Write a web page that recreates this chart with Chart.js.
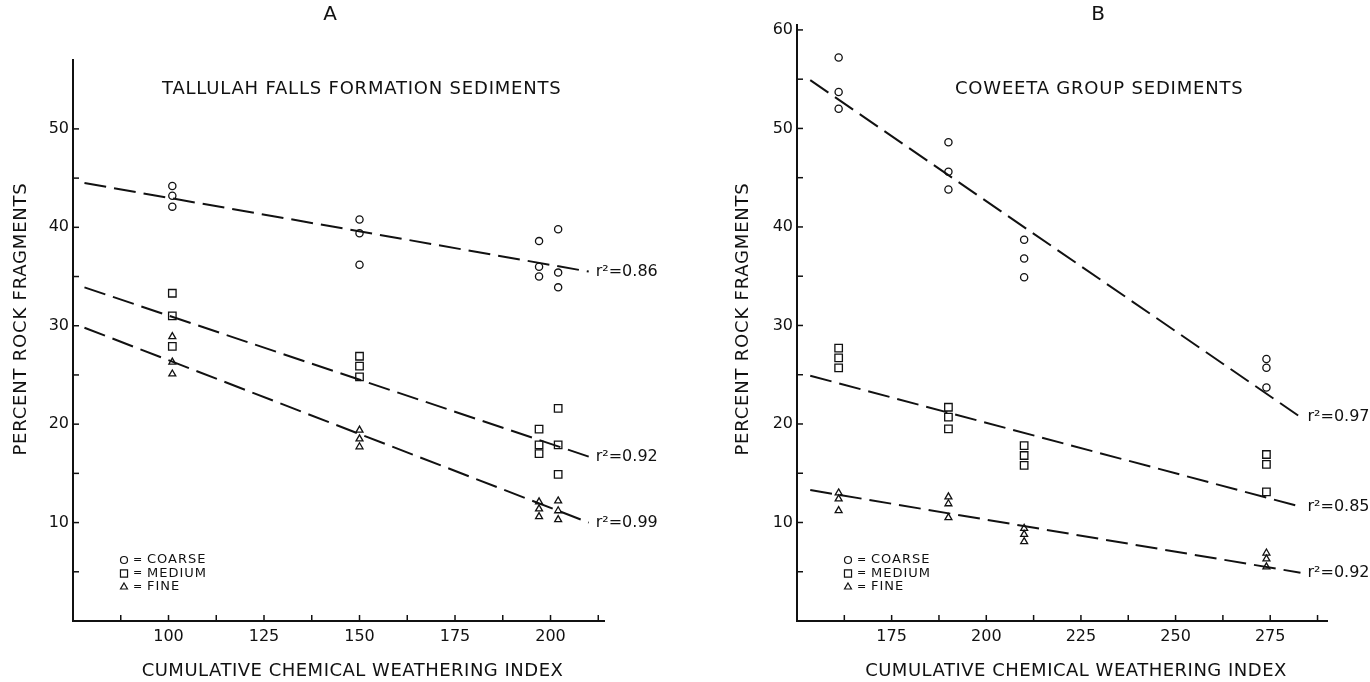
<!DOCTYPE html>
<html>
<head>
<meta charset="utf-8">
<script src="https://cdn.jsdelivr.net/npm/chart.js@4.4.1/dist/chart.umd.min.js"></script>
<style>
    html, body { margin: 0; padding: 0; background: #fff; }
    #wrap { position: relative; width: 1370px; height: 682px; }
    #wrap canvas { position: absolute; top: 0; }
    #grafikA { left: 0; }
    #grafikB { left: 685px; }
</style>
</head>
<body>
<div id="wrap">
    <canvas id="grafikA" width="685" height="682"></canvas>
    <canvas id="grafikB" width="685" height="682"></canvas>
</div>
<script>
// Panel A - Tallulah Falls (x = weathering index, y = percent rock fragments)
const xA = [101, 101, 101, 150, 150, 150, 197, 197, 197, 202, 202, 202];
const coarseA = [44.2, 43.2, 42.1, 40.8, 39.4, 36.2, 38.6, 36.0, 35.0, 39.8, 35.4, 33.9];
const mediumA = [33.3, 31.0, 27.9, 26.9, 25.9, 24.8, 19.5, 17.9, 17.0, 21.6, 17.9, 14.9];
const fineA = [28.9, 26.3, 25.1, 19.4, 18.5, 17.7, 12.1, 11.4, 10.6, 12.2, 11.2, 10.3];

// regression line end points, panel A
const fitXA = [78, 210];
const fitCoarseA = [44.5, 35.5];
const fitMediumA = [33.9, 16.7];
const fitFineA = [29.8, 10.0];
const r2A = ['r\u00B2=0.86', 'r\u00B2=0.92', 'r\u00B2=0.99'];

// Panel B - Coweeta group
const xB = [161, 161, 161, 190, 190, 190, 210, 210, 210, 274, 274, 274];
const coarseB = [57.2, 53.7, 52.0, 48.6, 45.6, 43.8, 38.7, 36.8, 34.9, 26.6, 25.7, 23.7];
const mediumB = [27.7, 26.7, 25.7, 21.7, 20.7, 19.5, 17.8, 16.8, 15.8, 16.9, 15.9, 13.1];
const fineB = [13.0, 12.4, 11.2, 12.6, 11.9, 10.5, 9.4, 8.8, 8.05, 6.9, 6.3, 5.5];

const fitXB = [153.5, 283];
const fitCoarseB = [54.9, 20.7];
const fitMediumB = [24.9, 11.6];
const fitFineB = [13.3, 4.9];
const r2B = ['r\u00B2=0.97', 'r\u00B2=0.85', 'r\u00B2=0.92'];

// tick values
const xTicksA = [87.5, 100, 112.5, 125, 137.5, 150, 162.5, 175, 187.5, 200, 212.5];
const xTicksB = [162.5, 175, 187.5, 200, 212.5, 225, 237.5, 250, 262.5, 275, 287.5];
const yTicksA = [5, 10, 15, 20, 25, 30, 35, 40, 45, 50];
const yTicksB = [5, 10, 15, 20, 25, 30, 35, 40, 45, 50, 55, 60];

const huruf = '"DejaVu Sans", sans-serif';
const hitam = '#111';

function titik(xs, ys) {
    return xs.map((x, i) => ({ x: x, y: ys[i] }));
}

function seriTitik(label, xs, ys, gaya, r) {
    return {
        label: label,
        data: titik(xs, ys),
        pointStyle: gaya,
        pointRadius: r,
        pointBorderWidth: 1.3,
        borderColor: hitam,
        backgroundColor: 'rgba(0,0,0,0)',
        showLine: false
    };
}

function seriGaris(label, xs, ys) {
    return {
        label: label,
        data: titik(xs, ys),
        showLine: true,
        borderColor: hitam,
        borderWidth: 2,
        borderDash: [22, 8],
        pointRadius: 0,
        fill: false
    };
}

// draw inward ticks, titles, legend and r^2 labels
const annotPlugin = {
    id: 'annot',
    afterDraw(chart, args, o) {
        const ctx = chart.ctx;
        const sx = chart.scales.x, sy = chart.scales.y;
        const area = chart.chartArea;
        ctx.save();
        ctx.strokeStyle = hitam;
        ctx.lineWidth = 1.5;
        sx.ticks.forEach(t => {
            const px = sx.getPixelForValue(t.value);
            ctx.beginPath();
            ctx.moveTo(px, area.bottom);
            ctx.lineTo(px, area.bottom - 6);
            ctx.stroke();
        });
        sy.ticks.forEach(t => {
            const py = sy.getPixelForValue(t.value);
            ctx.beginPath();
            ctx.moveTo(area.left, py);
            ctx.lineTo(area.left + 6, py);
            ctx.stroke();
        });

        ctx.fillStyle = hitam;
        ctx.textBaseline = 'middle';

        ctx.font = '20px ' + huruf;
        ctx.textAlign = 'center';
        ctx.fillText(o.letter, o.letterX, 15);

        ctx.letterSpacing = '0.8px';
        ctx.font = '18px ' + huruf;
        ctx.textAlign = 'left';
        ctx.fillText(o.subtitle, o.subX, 89);

        ctx.letterSpacing = '0.5px';
        ctx.textAlign = 'center';
        ctx.fillText('CUMULATIVE CHEMICAL WEATHERING INDEX', (area.left + area.right) / 2 + 14, 671);

        ctx.save();
        ctx.letterSpacing = '0.8px';
        ctx.translate(o.yTitleX, 319);
        ctx.rotate(-Math.PI / 2);
        ctx.fillText('PERCENT ROCK FRAGMENTS', 0, 0);
        ctx.restore();
        ctx.letterSpacing = '0px';

        // r^2 labels at the end of each fit line
        ctx.font = '16px ' + huruf;
        ctx.textAlign = 'left';
        o.fits.forEach(f => {
            const px = sx.getPixelForValue(f.x);
            const py = sy.getPixelForValue(f.y);
            ctx.fillText(f.label, px + 7, py);
        });

        // legend (hollow symbols)
        const lx = area.left + 51;
        const rows = [['circle', 'COARSE', 560], ['rect', 'MEDIUM', 573.5], ['triangle', 'FINE', 587]];
        ctx.lineWidth = 1.2;
        rows.forEach(r => {
            const rad = r[0] === 'rect' ? 5 : (r[0] === 'circle' ? 3.5 : 4);
            ctx.fillStyle = 'rgba(0,0,0,0)';
            Chart.helpers.drawPoint(ctx, { pointStyle: r[0], radius: rad, borderWidth: 1.2 }, lx, r[2]);
            ctx.fillStyle = hitam;
            ctx.font = '11px ' + huruf;
            ctx.fillText('=', lx + 9, r[2]);
            ctx.letterSpacing = '1px';
            ctx.font = '13px ' + huruf;
            ctx.fillText(r[1], lx + 23, r[2]);
            ctx.letterSpacing = '0px';
        });
        ctx.restore();
    }
};

function buatGrafik(id, cfg) {
    return new Chart(document.getElementById(id), {
        type: 'scatter',
        data: { datasets: cfg.datasets },
        options: {
            responsive: false,
            animation: false,
            devicePixelRatio: 1,
            layout: { padding: { left: 0, right: cfg.padRight, top: cfg.padTop, bottom: 0 } },
            plugins: {
                legend: { display: false },
                tooltip: { enabled: false },
                annot: cfg.annot
            },
            scales: {
                x: {
                    type: 'linear',
                    min: cfg.xMin,
                    max: cfg.xMax,
                    afterBuildTicks: s => { s.ticks = cfg.xTicks.map(v => ({ value: v })); },
                    afterFit: s => { s.height = 61; },
                    grid: { display: false, drawTicks: false },
                    border: { display: true, color: hitam, width: 2 },
                    ticks: {
                        color: hitam,
                        padding: 6,
                        maxRotation: 0,
                        autoSkip: false,
                        font: { family: huruf, size: 16 },
                        callback: v => (v % 25 === 0 ? v : '')
                    }
                },
                y: {
                    type: 'linear',
                    min: 0,
                    max: cfg.yMax,
                    afterBuildTicks: s => { s.ticks = cfg.yTicks.map(v => ({ value: v })); },
                    afterFit: s => { s.width = cfg.yWidth; },
                    grid: { display: false, drawTicks: false },
                    border: { display: true, color: hitam, width: 2 },
                    ticks: {
                        color: hitam,
                        padding: 4,
                        autoSkip: false,
                        font: { family: huruf, size: 16 },
                        callback: v => (v % 10 === 0 ? v : '')
                    }
                }
            }
        },
        plugins: [annotPlugin]
    });
}

const grafikA = buatGrafik('grafikA', {
    datasets: [
        seriTitik('Coarse', xA, coarseA, 'circle', 3.6),
        seriTitik('Medium', xA, mediumA, 'rect', 5.3),
        seriTitik('Fine', xA, fineA, 'triangle', 4),
        seriGaris('Fit coarse', fitXA, fitCoarseA),
        seriGaris('Fit medium', fitXA, fitMediumA),
        seriGaris('Fit fine', fitXA, fitFineA)
    ],
    xMin: 75, xMax: 214, yMax: 57,
    xTicks: xTicksA, yTicks: yTicksA,
    yWidth: 73, padRight: 81, padTop: 60,
    annot: {
        letter: 'A', letterX: 330,
        subtitle: 'TALLULAH FALLS FORMATION SEDIMENTS', subX: 162,
        yTitleX: 21,
        fits: [
            { x: fitXA[1], y: fitCoarseA[1], label: r2A[0] },
            { x: fitXA[1], y: fitMediumA[1], label: r2A[1] },
            { x: fitXA[1], y: fitFineA[1], label: r2A[2] }
        ]
    }
});

const grafikB = buatGrafik('grafikB', {
    datasets: [
        seriTitik('Coarse', xB, coarseB, 'circle', 3.6),
        seriTitik('Medium', xB, mediumB, 'rect', 5.3),
        seriTitik('Fine', xB, fineB, 'triangle', 4),
        seriGaris('Fit coarse', fitXB, fitCoarseB),
        seriGaris('Fit medium', fitXB, fitMediumB),
        seriGaris('Fit fine', fitXB, fitFineB)
    ],
    xMin: 150, xMax: 290, yMax: 60.5,
    xTicks: xTicksB, yTicks: yTicksB,
    yWidth: 112, padRight: 43, padTop: 25,
    annot: {
        letter: 'B', letterX: 1098 - 685,
        subtitle: 'COWEETA GROUP SEDIMENTS', subX: 955 - 685,
        yTitleX: 743 - 685,
        fits: [
            { x: fitXB[1], y: fitCoarseB[1], label: r2B[0] },
            { x: fitXB[1], y: fitMediumB[1], label: r2B[1] },
            { x: fitXB[1], y: fitFineB[1], label: r2B[2] }
        ]
    }
});
</script>
</body>
</html>
